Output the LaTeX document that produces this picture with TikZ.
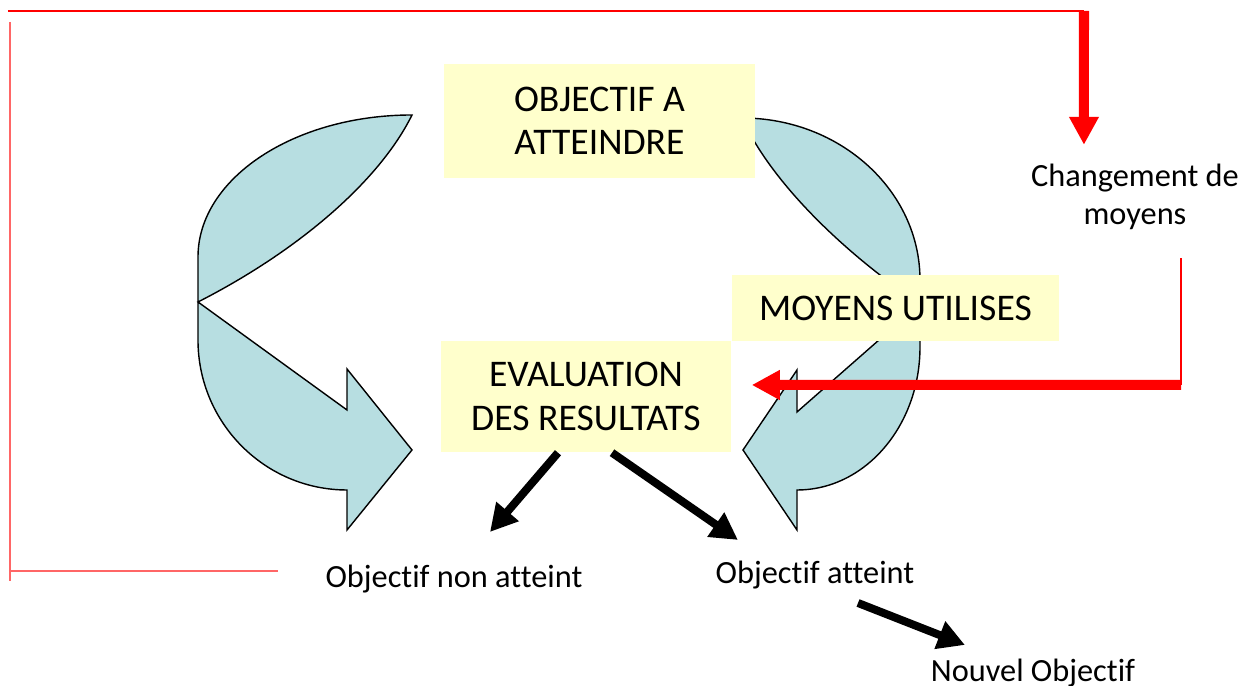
\documentclass[tikz,border=0pt]{standalone}
\usepackage{fontspec}
\setmainfont{Carlito}[Ligatures=CommonOff]
\usetikzlibrary{arrows.meta}
\definecolor{curlblue}{RGB}{183,222,225}
\definecolor{boxyellow}{RGB}{255,255,204}

\begin{document}
\begin{tikzpicture}[x=0.01cm,y=-0.01cm,
    yellowbox/.style={fill=boxyellow, inner sep=0pt, align=center, font=\fontsize{10.7}{12.4}\selectfont},
    smalltxt/.style={inner sep=0pt, align=center, font=\fontsize{9.2}{10.6}\selectfont},
    curl/.style={fill=curlblue, draw=black, line width=0.4pt, line join=miter},
    redthick/.style={red, line width=0.1cm, -{Triangle[length=0.28cm,width=0.28cm]}},
    blackthick/.style={black, line width=0.08cm, -{Triangle[length=0.27cm,width=0.28cm]}}]
    \useasboundingbox (0,0) rectangle (1241,686);

    % the two curved arrows
    \draw[curl] (412,115) .. controls (380,180) and (300,250) .. (198,302)
        -- (347,410) -- (347,369) -- (412,450) -- (347,530) -- (347,490)
        .. controls (264.8,490) and (198,422.8) .. (198,340)
        -- (198,257) .. controls (198,178.6) and (293.9,115) .. (412,115) -- cycle;
    \draw[curl] (742,118) .. controls (840,118) and (920,190.6) .. (920,280)
        -- (920,347) .. controls (920,426) and (865,490) .. (797,490)
        -- (797,530) -- (743,450) -- (797,370) -- (797,412) -- (920,304)
        .. controls (840,250) and (770,180) .. (742,118) -- cycle;

    \node[yellowbox, minimum width=3.11cm, minimum height=1.14cm] (obj) at (599.5,121) {OBJECTIF A\\ATTEINDRE};
    \node[yellowbox, minimum width=3.27cm, minimum height=0.66cm] (moy) at (895.5,308) {MOYENS UTILISES};
    \node[yellowbox, minimum width=2.90cm, minimum height=1.11cm] (eval) at (586,396.5) {EVALUATION\\DES RESULTATS};

    \node[smalltxt] (chg) at (1135,197) {Changement de\\moyens};
    \node[smalltxt, anchor=base] (nonatt) at (454,588) {Objectif non atteint};
    \node[smalltxt, anchor=base] (att) at (815,584) {Objectif atteint};
    \node[smalltxt, anchor=base] (nouv) at (1033,682) {Nouvel Objectif};

    % red loop
    \coordinate (topcorner) at (1084,11);
    \coordinate (rightcorner) at (1181,385);
    \draw[red, line width=0.4pt] (8,11) -- (topcorner);
    \draw[redthick] (topcorner) -- ([xshift=-0.51cm, yshift=0.19cm]chg.north);
    \draw[red, line width=0.5pt] ([xshift=0.46cm, yshift=-0.28cm]chg.south) -- (rightcorner);
    \draw[redthick] (rightcorner) -- ([xshift=0.2cm, yshift=0.115cm]eval.east);
    \draw[red!60, line width=0.7pt] (10,22) -- (10,581);
    \draw[red!60, line width=0.7pt] (9,571) -- (278,571);

    % results
    \draw[blackthick] ([xshift=-0.28cm]eval.south) -- ([xshift=0.36cm, yshift=0.56cm]nonatt.base);
    \draw[blackthick] ([xshift=0.26cm]eval.south) -- ([xshift=-0.77cm, yshift=0.44cm]att.base);
    \draw[blackthick] ([xshift=0.43cm, yshift=-0.19cm]att.base) -- ([xshift=-0.68cm, yshift=0.37cm]nouv.base);
\end{tikzpicture}
\end{document}
